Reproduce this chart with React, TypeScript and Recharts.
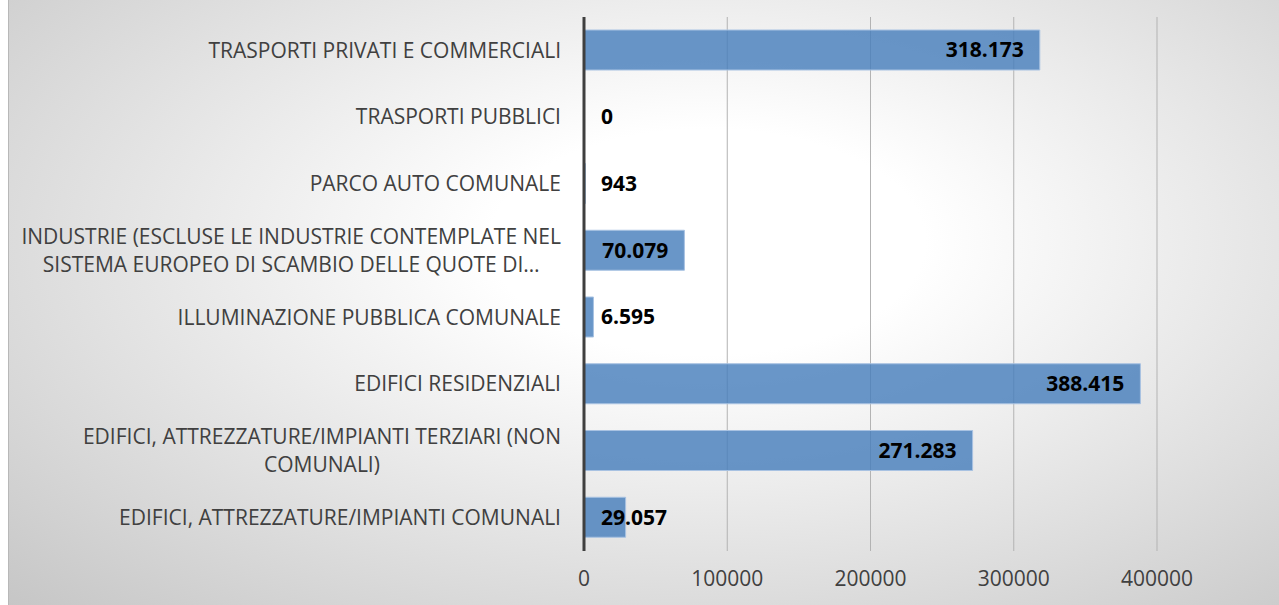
import { BarChart, Bar, XAxis, YAxis, CartesianGrid, LabelList } from "recharts";

// categorie (dall'alto verso il basso), a capo con "\n" come nel grafico originale
const CATEGORIES: string[] = [
    "TRASPORTI PRIVATI E COMMERCIALI",
    "TRASPORTI PUBBLICI",
    "PARCO AUTO COMUNALE",
    "INDUSTRIE (ESCLUSE LE INDUSTRIE CONTEMPLATE NEL\nSISTEMA EUROPEO DI SCAMBIO DELLE QUOTE DI…",
    "ILLUMINAZIONE PUBBLICA COMUNALE",
    "EDIFICI RESIDENZIALI",
    "EDIFICI, ATTREZZATURE/IMPIANTI TERZIARI (NON\nCOMUNALI)",
    "EDIFICI, ATTREZZATURE/IMPIANTI COMUNALI",
];

const VALUES: number[] = [318173, 0, 943, 70079, 6595, 388415, 271283, 29057];

const X_TICKS: number[] = [0, 100000, 200000, 300000, 400000];

const data = CATEGORIES.map((name, i) => ({ name, value: VALUES[i] }));

const FONT = "'Open Sans', sans-serif";
const TICK_SIZE = 21;
const LABEL_SIZE = 21;

let ctx: CanvasRenderingContext2D | null = null;
function textWidth(text: string, font: string) {
    if (!ctx) ctx = document.createElement("canvas").getContext("2d");
    if (!ctx) return text.length * 10;
    ctx.font = font;
    return ctx.measureText(text).width;
}

const fmt = (v: number) => v.toLocaleString("it-IT");

function CategoryTick(props: any) {
    const { x, y, payload } = props;
    const lines: string[] = String(payload.value).split("\n");
    const font = `${TICK_SIZE}px 'Open Sans'`;
    const maxW = Math.max(...lines.map((l) => textWidth(l, font)));
    const lineH = 28;
    const cx = x - maxW / 2;
    const startY = y - ((lines.length - 1) * lineH) / 2;
    return (
        <text textAnchor="middle" fill="#404040" fontSize={TICK_SIZE} fontFamily={FONT}>
            {lines.map((l, i) => (
                <tspan key={i} x={cx} y={startY + i * lineH} dy="0.35em">
                    {l}
                </tspan>
            ))}
        </text>
    );
}

function ValueLabel(props: any) {
    const { x, y, width, height, value } = props;
    const txt = fmt(Number(value));
    const w = textWidth(txt, `bold ${LABEL_SIZE}px 'Open Sans'`);
    const inside = width - 16 >= w + 17;
    return (
        <text
            x={inside ? x + width - 16 : x + 17}
            y={y + height / 2}
            dy="0.35em"
            textAnchor={inside ? "end" : "start"}
            fontSize={LABEL_SIZE}
            fontWeight="bold"
            fontFamily={FONT}
            fill="#000"
        >
            {txt}
        </text>
    );
}

export default function App() {
    return (
        <div
            style={{
                position: "absolute",
                left: 8,
                top: 0,
                width: 1271,
                height: 605,
                borderLeft: "1px solid #b8b8b8",
                boxSizing: "border-box",
                background:
                    "radial-gradient(ellipse farthest-corner at 55% 40%, #ffffff 0%, #ffffff 22%, #c6c6c6 100%)",
            }}
        >
            <BarChart
                width={1270}
                height={605}
                data={data}
                layout="vertical"
                margin={{ top: 17, right: 122, bottom: 24, left: 0 }}
            >
                <CartesianGrid horizontal={false} stroke="#b3b3b3" />
                <XAxis
                    type="number"
                    domain={[0, 400000]}
                    ticks={X_TICKS}
                    axisLine={false}
                    tickLine={false}
                    tickSize={0}
                    tickMargin={20}
                    height={30}
                    tick={{ fill: "#404040", fontSize: 21, fontFamily: FONT }}
                />
                <Bar
                    dataKey="value"
                    fill="#487fbc"
                    fillOpacity={0.82}
                    stroke="#a8c2e2"
                    strokeWidth={1}
                    barSize={40}
                    minPointSize={(v: number) => (v === 0 ? 0.01 : 0)}
                    isAnimationActive={false}
                >
                    <LabelList dataKey="value" content={<ValueLabel />} />
                </Bar>
                <YAxis
                    type="category"
                    dataKey="name"
                    width={575}
                    axisLine={{ stroke: "#3f3f3f", strokeWidth: 3 }}
                    tickLine={false}
                    tickSize={0}
                    tickMargin={23}
                    interval={0}
                    tick={<CategoryTick />}
                />
            </BarChart>
        </div>
    );
}
